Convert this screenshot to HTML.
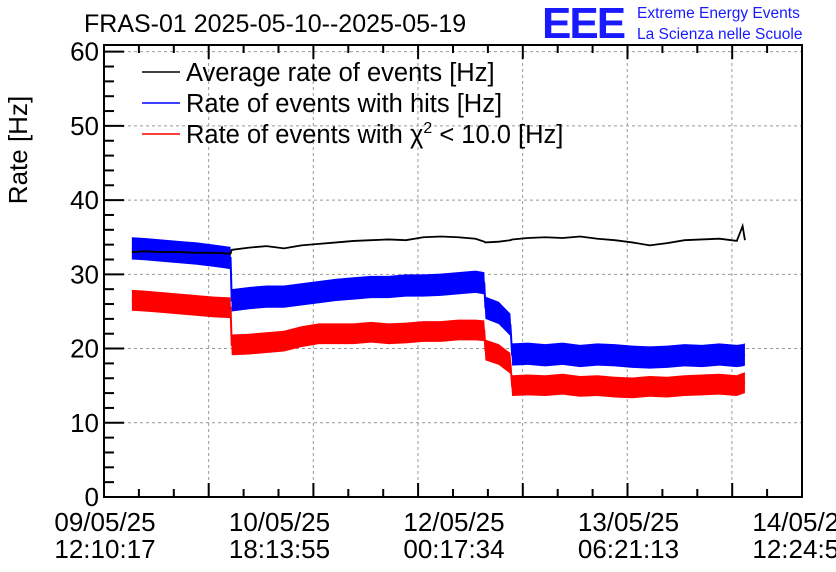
<!DOCTYPE html>
<html><head><meta charset="utf-8"><style>
body{margin:0;background:#fff}
svg{display:block;font-family:"Liberation Sans",Arial,sans-serif}
</style></head><body>
<svg id="chart" width="836" height="572" viewBox="0 0 836 572" xmlns="http://www.w3.org/2000/svg">
<rect width="836" height="572" fill="#fff"/>
<text x="84" y="32" font-size="25">FRAS-01 2025-05-10--2025-05-19</text>
<text x="542" y="38" font-size="44" fill="#1a1aff" font-weight="bold" letter-spacing="-2">EEE</text>
<text x="637" y="18" font-size="15.5" fill="#1a1aff">Extreme Energy Events</text>
<text x="637" y="39" font-size="15.5" fill="#1a1aff">La Scienza nelle Scuole</text>
<text transform="translate(27 150) rotate(-90)" text-anchor="middle" font-size="26">Rate [Hz]</text>
<g id="grid"></g>
<g id="series"></g>
<g id="axes"></g>
<g font-size="25.5">
<line x1="142" y1="72" x2="180" y2="72" stroke="#000" stroke-width="1.5"/>
<text x="186" y="81">Average rate of events [Hz]</text>
<line x1="142" y1="103" x2="180" y2="103" stroke="#00f" stroke-width="1.5"/>
<text x="186" y="112">Rate of events with hits [Hz]</text>
<line x1="142" y1="134" x2="180" y2="134" stroke="#f00" stroke-width="1.5"/>
<text x="186" y="143">Rate of events with χ<tspan font-size="16" dy="-10">2</tspan><tspan dy="10"> &lt; 10.0 [Hz]</tspan></text>
</g>
</svg>
<script>
// hours since 09/05/25 12:10:17
const times = [4.8,7,10,13,16,19,21.8,22,25,28,31,34,37,40,43,46,49,52,55,58,61,64,65.5,65.7,68,70,70.3,73,76,79,82,85,88,91,94,97,100,103,106,109,110,110.4];
const avgRate = [33.0,33.1,33.0,33.0,32.9,32.9,32.8,33.3,33.6,33.8,33.5,33.9,34.1,34.3,34.5,34.6,34.7,34.6,35.0,35.1,35.0,34.8,34.4,34.3,34.4,34.6,34.7,34.9,35.0,34.9,35.1,34.8,34.6,34.3,33.9,34.2,34.6,34.7,34.8,34.5,36.5,34.6];
const hitsRate = [33.5,33.4,33.2,33.0,32.8,32.5,32.2,26.5,26.8,27.0,27.0,27.3,27.6,27.9,28.1,28.3,28.3,28.5,28.5,28.6,28.8,29.0,28.8,25.5,24.8,23.2,19.2,19.3,19.1,19.3,19.0,19.2,19.1,18.9,18.8,18.9,19.1,19.0,19.2,19.0,19.1,19.2];
const chi2Rate = [26.5,26.4,26.2,26.0,25.8,25.6,25.5,20.5,20.6,20.8,21.0,21.6,22.0,22.0,22.0,22.2,22.0,22.1,22.3,22.3,22.5,22.5,22.4,19.8,19.2,18.0,15.0,15.1,15.0,15.2,14.9,15.0,14.8,14.7,14.9,14.8,15.0,15.1,15.2,15.0,15.3,15.4];
const yTicks = [0,10,20,30,40,50,60];
const xLabelsDate = ["09/05/25","10/05/25","12/05/25","13/05/25","14/05/25"];
const xLabelsTime = ["12:10:17","18:13:55","00:17:34","06:21:13","12:24:52"];

const NS="http://www.w3.org/2000/svg";
const L=104,R=802,T=45,B=497,TMAX=120.23,YMAX=60.9;
const xs=t=>L+t/TMAX*(R-L);
const ys=v=>B-v/YMAX*(B-T);
function mk(tag,parent,attrs){const e=document.createElementNS(NS,tag);for(const k in attrs)e.setAttribute(k,attrs[k]);parent.appendChild(e);return e;}
const grid=document.getElementById('grid'),axes=document.getElementById('axes'),ser=document.getElementById('series');
for(let i=1;i<7;i++){const x=L+i*(R-L)/6.67;if(x>=R)break;
 const g=mk('line',grid,{x1:x,y1:T,x2:x,y2:B,stroke:'#999','stroke-dasharray':'3,3','stroke-width':1});
 
 }
yTicks.forEach(v=>{if(v===0)return;const y=ys(v);
 const g=mk('line',grid,{x1:L,y1:y,x2:R,y2:y,stroke:'#999','stroke-dasharray':'3,3','stroke-width':1});
 
 });
function series(vals,color,spread,name,w){
 let up=times.map((t,i)=>xs(t)+','+ys(vals[i]+spread)).join(' ');
 let dn=times.map((t,i)=>xs(t)+','+ys(vals[i]-spread)).reverse().join(' ');
 if(spread>0){const p=mk('polygon',ser,{points:up+' '+dn,fill:color});
  
  }
 const l=mk('polyline',ser,{points:times.map((t,i)=>xs(t)+','+ys(vals[i])).join(' '),fill:'none',stroke:color,'stroke-width':w});
 
 }
series(chi2Rate,'#f00',1.4,'chi2-rate',2);
series(hitsRate,'#00f',1.5,'hits-rate',2);
series(avgRate,'#000',0,'average-rate',1.8);
const f=mk('rect',axes,{x:L,y:T,width:R-L,height:B-T,fill:'none',stroke:'#000','stroke-width':2});


for(let v=0;v<=60;v+=2){const y=ys(v);const big=v%10===0;
 mk('line',axes,{x1:L,y1:y,x2:L+(big?20:10),y2:y,stroke:'#000','stroke-width':2});}
yTicks.forEach(v=>{const t=mk('text',axes,{x:99,y:ys(v)+9,'text-anchor':'end','font-size':26});t.textContent=v;
 
 });
for(let i=0;i<=20;i++){const x=L+i*(R-L)/20;const big=i%3===0;
 mk('line',axes,{x1:x,y1:B,x2:x,y2:B-(big?14:8),stroke:'#000','stroke-width':2});
 mk('line',axes,{x1:x,y1:T,x2:x,y2:T+(big?14:8),stroke:'#000','stroke-width':2});}
xLabelsDate.forEach((d,i)=>{const x=L+1+i*(R-L)/4;
 const a=mk('text',axes,{x:x,y:531,'text-anchor':'middle','font-size':26});a.textContent=d;
 
 
 const b=mk('text',axes,{x:x,y:558,'text-anchor':'middle','font-size':26});b.textContent=xLabelsTime[i];
 
 });
</script>
</body></html>
